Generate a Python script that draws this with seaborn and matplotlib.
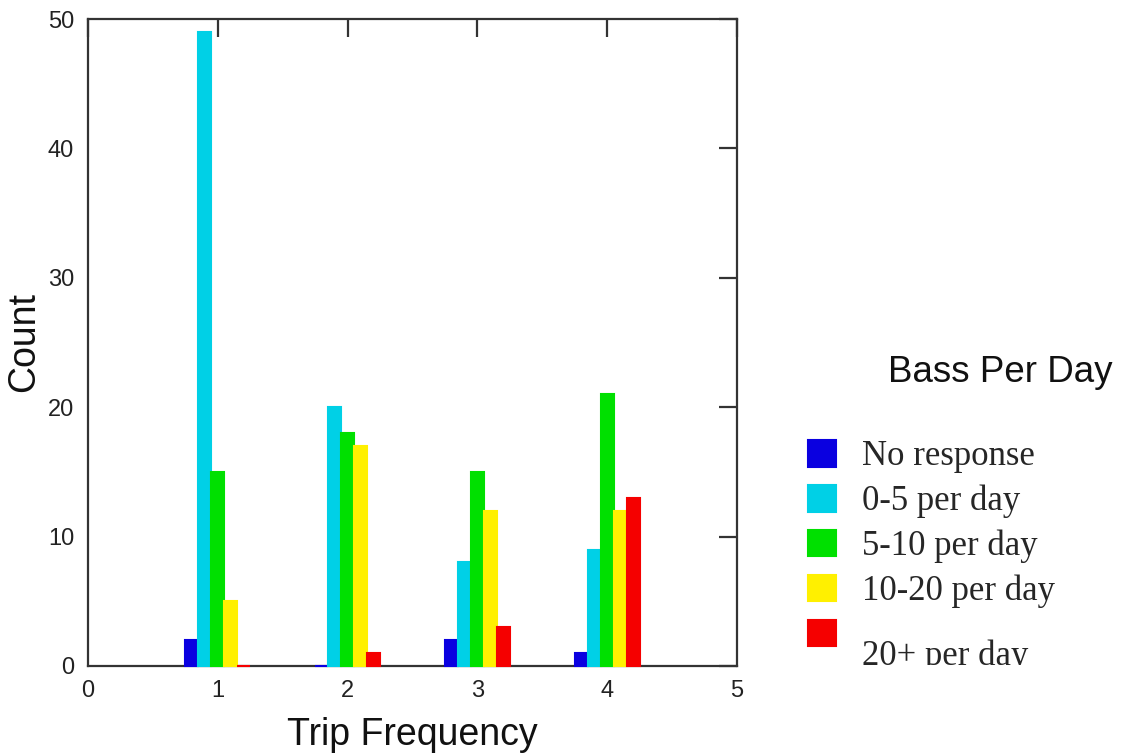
import matplotlib
matplotlib.use("Agg")
import matplotlib.pyplot as plt
from matplotlib.transforms import Bbox, TransformedBbox, ScaledTranslation
import seaborn as sns
import pandas as pd

# ---- data ----
trip_frequency = [1, 2, 3, 4]
series_names = ["No response", "0-5 per day", "5-10 per day", "10-20 per day", "20+ per day"]
no_response = [2, 0, 2, 1]
per_day_0_5 = [49, 20, 8, 9]
per_day_5_10 = [15, 18, 15, 21]
per_day_10_20 = [5, 17, 12, 12]
per_day_20_plus = [0, 1, 3, 13]
series_colors = ["#0A00E0", "#00D0E6", "#00E000", "#FFF000", "#F50000"]

x_ticks = [0, 1, 2, 3, 4, 5]
y_ticks = [0, 10, 20, 30, 40, 50]

all_values = [no_response, per_day_0_5, per_day_5_10, per_day_10_20, per_day_20_plus]
rows = []
for name, vals in zip(series_names, all_values):
    for t, v in zip(trip_frequency, vals):
        rows.append({"Trip Frequency": t, "Count": v, "Bass Per Day": name})
df = pd.DataFrame(rows)

sns.set_style("white")
plt.rcParams["font.family"] = ["Liberation Sans", "DejaVu Sans"]

fig = plt.figure(figsize=(11.23, 7.56), dpi=100)
ax = fig.add_axes([88 / 1123, 1 - 666 / 756, (737 - 88) / 1123, (666 - 19) / 756])

sns.barplot(data=df, x="Trip Frequency", y="Count", hue="Bass Per Day",
            hue_order=series_names, palette=series_colors, native_scale=True,
            width=0.5, saturation=1, errorbar=None, ax=ax, dodge=True)

for p in ax.patches:
    p.set_edgecolor(p.get_facecolor())
    p.set_linewidth(1.5)
    p.set_zorder(3)
    p.set_clip_on(False)

ax.set_xlim(0, 5)
ax.set_ylim(0, 50)
ax.set_xticks(x_ticks)
ax.set_yticks(y_ticks)
ax.set_xticklabels([str(t) for t in x_ticks])
ax.set_yticklabels([str(t) for t in y_ticks])

for s in ax.spines.values():
    s.set_visible(True)
    s.set_color("#333333")
    s.set_linewidth(1.6)
    s.set_zorder(2.5)
ax.tick_params(axis="both", which="major", direction="in", length=13, width=1.6,
               color="#333333", top=True, right=True, labelsize=17,
               labelcolor="#222222", pad=10)
ax.set_xlabel("Trip Frequency", fontsize=27, color="#111111", labelpad=11)
ax.set_ylabel("Count", fontsize=27, color="#111111", labelpad=4)
ax.grid(False)

handles, labels = ax.get_legend_handles_labels()
if ax.get_legend() is not None:
    ax.get_legend().remove()
leg = fig.legend(handles, labels, loc="upper left",
                 bbox_to_anchor=(808 / 1123, 1 - 440 / 756),
                 frameon=False, borderpad=0, borderaxespad=0,
                 handlelength=0.8, handleheight=0.8, handletextpad=0.75,
                 labelspacing=0.33,
                 prop={"family": "Liberation Serif", "size": 25})
clip = TransformedBbox(Bbox([[0.0, 1 - 665 / 756], [1.0, 1.0]]), fig.transFigure)
texts = leg.get_texts()
for t in texts:
    t.set_clip_box(clip)
    t.set_clip_on(True)
# last label sits lower in the reference and is cut at the bottom
last = texts[-1]
last.set_transform(last.get_transform() + ScaledTranslation(0, -0.2, fig.dpi_scale_trans))

fig.text(1000 / 1123, 1 - 373 / 756, "Bass Per Day", ha="center", va="center",
         fontsize=26.5, family="Liberation Sans", color="#111111")

fig.savefig("out.png", dpi=100)
